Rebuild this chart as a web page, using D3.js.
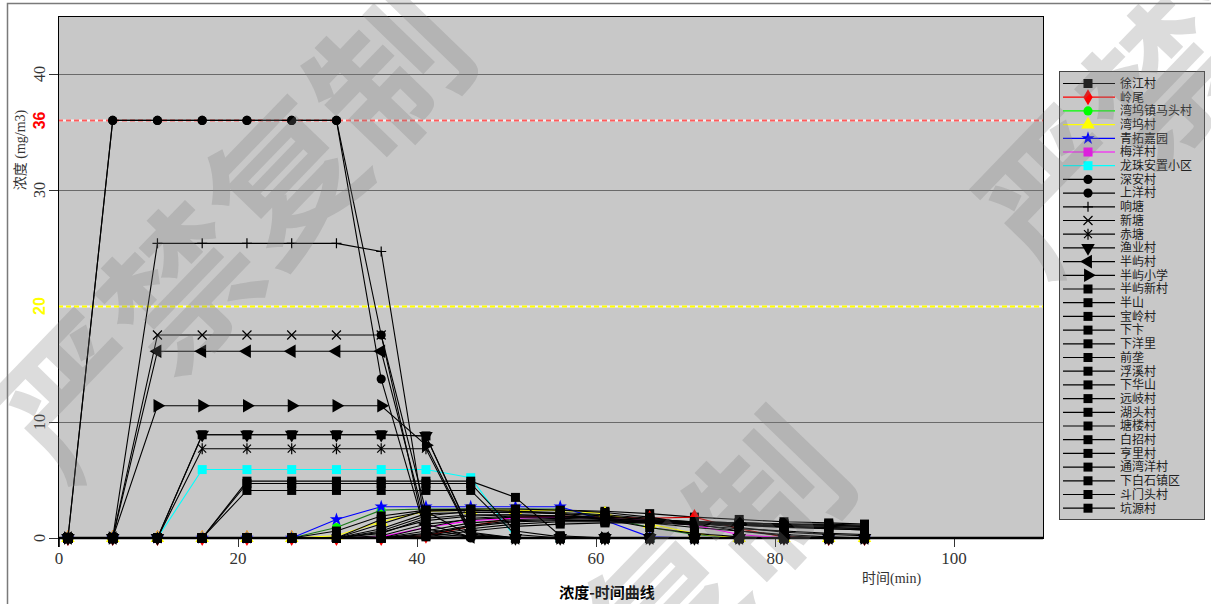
<!DOCTYPE html>
<html>
<head>
<meta charset="utf-8">
<script src="https://cdn.jsdelivr.net/npm/d3@7"></script>
<style>
  body { margin: 0; background: #fff; }
  svg { display: block; }
</style>
</head>
<body>
<svg id="chart" width="1211" height="604"></svg>
<script>
// ---- sample times (min) ----
const times = [1, 6, 11, 16, 21, 26, 31, 36, 41, 46, 51, 56, 61, 66, 71, 76, 81, 86, 90];

// ---- concentration per receptor (mg/m3), one value per sample time ----
const xujiang     = [0,0,0,0,0,0,0,0.6,1.9,2.3,2.4,2.4,2.3,2.1,1.8,1.6,1.4,1.3,1.2];
const lingwei     = [0,0,0,0,0,0,0,0,0.2,1.0,1.8,1.9,1.8,1.7,1.8,0.8,0.1,0,0];
const matou       = [0,0,0,0,0,0,0.9,2.4,2.5,2.5,2.5,2.5,1.8,0.9,0.3,0,0,0,0];
const wanwu       = [0,0,0,0,0,0,0.2,1.4,2.3,2.4,2.4,2.4,2.1,1.2,0.4,0,0,0,0];
const qingtuo     = [0,0,0,0,0,0,1.6,2.7,2.7,2.7,2.7,2.7,1.5,0.1,0,0,0,0,0];
const meiyang     = [0,0,0,0,0,0,0,0.1,0.9,1.5,1.7,1.8,1.7,1.5,1.1,0.3,0,0,0];
const longzhu     = [0,0,0,5.9,5.9,5.9,5.9,5.9,5.9,5.2,0,0,0,0,0,0,0,0,0];
const shenan      = [0,36,36,36,36,36,36,13.7,0.4,0.1,0,0,0,0,0,0,0,0,0];
const shangyang   = [0,36,36,36,36,36,36,17.5,0.2,0,0,0,0,0,0,0,0,0,0];
const xiangtang   = [0,0,25.4,25.4,25.4,25.4,25.4,24.7,0.8,0.1,0,0,0,0,0,0,0,0,0];
const xintang     = [0,0,17.5,17.5,17.5,17.5,17.5,17.5,2.3,0.2,0,0,0,0,0,0,0,0,0];
const chitang     = [0,0,0,7.7,7.7,7.7,7.7,7.7,7.7,0.2,0,0,0,0,0,0,0,0,0];
const yuye        = [0,0,0,8.9,8.9,8.9,8.9,8.9,8.8,0.4,0,0,0,0,0,0,0,0,0];
const banyu       = [0,0,16.1,16.1,16.1,16.1,16.1,16.1,1.2,0.1,0,0,0,0,0,0,0,0,0];
const banyuSchool = [0,0,11.4,11.4,11.4,11.4,11.4,11.4,8.0,0.3,0,0,0,0,0,0,0,0,0];
const banyuNew    = [0,0,0,0,4.9,4.9,4.9,4.9,4.9,4.9,3.5,0.2,0,0,0,0,0,0,0];
const banshan     = [0,0,0,8.9,8.9,8.9,8.9,8.9,8.8,0.5,0,0,0,0,0,0,0,0,0];
const baoling     = [0,0,0,0,4.7,4.7,4.7,4.7,4.7,4.7,0.6,0.1,0,0,0,0,0,0,0];
const xiabian     = [0,0,0,0,4.1,4.1,4.1,4.1,4.1,4.1,0.3,0,0,0,0,0,0,0,0];
const xiayangli   = [0,0,0,0,0,0,0,0.8,2.1,2.2,2.2,2.1,1.9,1.6,1.4,1.3,1.2,1.1,1.0];
const qianlong    = [0,0,0,0,0,0,0.6,1.9,2.4,2.5,2.5,2.4,2.2,1.8,1.2,0.6,0.2,0,0];
const fuxi        = [0,0,0,0,0,0,0,0.2,1.2,1.6,1.8,1.8,1.7,1.5,1.3,1.1,0.9,0.8,0.7];
const xiahuashan  = [0,0,0,0,0,0,0,0,0.6,1.3,1.6,1.7,1.6,1.5,1.4,1.3,1.2,1.1,1.0];
const yuanqi      = [0,0,0,0,0,0,0,0.5,1.5,1.9,2.0,1.9,1.7,1.4,1.1,0.8,0.6,0.4,0.3];
const hutou       = [0,0,0,0,0,0,0,0,0.3,1.0,1.4,1.5,1.5,1.4,1.3,1.2,1.1,1.0,0.9];
const tanglou     = [0,0,0,0,0,0,0,1.2,2.4,2.4,2.3,2.1,1.6,0.9,0.4,0.1,0,0,0];
const baizhao     = [0,0,0,0,0,0,0,0,0.9,1.7,1.9,1.9,1.8,1.6,1.4,1.2,1.0,0.8,0.7];
const hengli      = [0,0,0,0,0,0,0,0,0.2,0.8,1.2,1.4,1.4,1.3,1.2,1.1,1.0,0.9,0.8];
const tongwanyang = [0,0,0,0,0,0,0,1.6,2.3,2.4,2.3,2.2,2.0,1.7,1.3,0.9,0.5,0.3,0.2];
const xiabaishi   = [0,0,0,0,0,0,0,0,0.4,1.1,1.5,1.6,1.5,1.4,1.4,1.3,1.2,1.2,1.1];
const doumentou   = [0,0,0,0,0,0,0,0.4,1.7,2.0,2.0,1.9,1.6,1.3,0.9,0.6,0.3,0.1,0];
const kengyuan    = [0,0,0,0,0,0,0,0,0.1,0.6,1.0,1.2,1.3,1.3,1.2,1.1,1.0,0.9,0.8];

// ---- receptor names (legend order) ----
const names = ["徐江村","岭尾","湾坞镇马头村","湾坞村","青拓嘉园","梅洋村","龙珠安置小区",
  "深安村","上洋村","响塘","新塘","赤塘","渔业村","半屿村","半屿小学","半屿新村","半山",
  "宝岭村","下卞","下洋里","前垄","浮溪村","下华山","远岐村","湖头村","塘楼村","白招村",
  "亨里村","通湾洋村","下白石镇区","斗门头村","坑源村"];
const values = [xujiang, lingwei, matou, wanwu, qingtuo, meiyang, longzhu, shenan, shangyang,
  xiangtang, xintang, chitang, yuye, banyu, banyuSchool, banyuNew, banshan, baoling, xiabian,
  xiayangli, qianlong, fuxi, xiahuashan, yuanqi, hutou, tanglou, baizhao, hengli, tongwanyang,
  xiabaishi, doumentou, kengyuan];

// ---- axis ticks and reference limits ----
const yTicks = [0, 10, 30, 40];
const xTicks = [0, 20, 40, 60, 80, 100];
const limits = [{ value: 36, label: "36", color: "#ff0000", line: "#ff5c5c" },
                { value: 20, label: "20", color: "#ffff00", line: "#ffff00" }];

// ---- marker and colour per receptor ----
const colorOf = { "岭尾": "#ff0000", "湾坞镇马头村": "#00ff00", "湾坞村": "#ffff00",
  "青拓嘉园": "#0000ff", "梅洋村": "#ff00ff", "龙珠安置小区": "#00ffff" };
const lineColorOf = { "湾坞镇马头村": "#1c7a1c", "岭尾": "#d00000" };
const markerOf = { "岭尾": "diamond", "湾坞镇马头村": "circle", "湾坞村": "triUp",
  "青拓嘉园": "star", "深安村": "circle", "上洋村": "circle", "响塘": "plus", "新塘": "x",
  "赤塘": "asterisk", "渔业村": "triDown", "半屿村": "triLeft", "半屿小学": "triRight" };

const svg = d3.select("#chart");
const plot = { left: 58, right: 1043, top: 16, bottom: 538 };

const x = d3.scaleLinear().domain([0, 110]).range([59, 1043.5]);
const y = d3.scaleLinear().domain([0, 45]).range([plot.bottom, plot.top]);

const serif = "'Liberation Serif', 'DejaVu Serif', serif";
const cjkSerif = "'Liberation Serif', 'Noto Sans CJK SC', serif";
const cjkSans = "'Noto Sans CJK SC', sans-serif";

// outer frame
svg.append("rect").attr("x", 7.5).attr("y", 3.5).attr("width", 1210).attr("height", 640)
  .attr("fill", "#fff").attr("stroke", "#7a7a7a").attr("stroke-width", 1.5);

// plot background
svg.append("rect").attr("x", plot.left).attr("y", plot.top)
  .attr("width", plot.right - plot.left).attr("height", plot.bottom - plot.top)
  .attr("fill", "#c8c8c8");

// horizontal grid lines
svg.append("g").selectAll("line").data(yTicks.filter(d => d > 0)).join("line")
  .attr("x1", plot.left).attr("x2", plot.right)
  .attr("y1", d => Math.round(y(d)) + 0.5).attr("y2", d => Math.round(y(d)) + 0.5)
  .attr("stroke", "#6a6a6a").attr("stroke-width", 1);

// limit lines (dashed)
limits.forEach(l => {
  const yy = Math.round(y(l.value)) + 0.5;
  svg.append("line").attr("x1", plot.left).attr("x2", plot.right).attr("y1", yy).attr("y2", yy)
    .attr("stroke", "#f4f4f4").attr("stroke-width", 2);
  svg.append("line").attr("x1", plot.left).attr("x2", plot.right).attr("y1", yy).attr("y2", yy)
    .attr("stroke", l.line).attr("stroke-width", 2).attr("stroke-dasharray", "5,3");
});

// y axis
const yAxis = d3.axisLeft(y).tickValues(yTicks).tickSize(9).tickFormat("");
const gy = svg.append("g").attr("transform", `translate(${plot.left},0)`).call(yAxis);
gy.select(".domain").remove();
gy.selectAll(".tick line").attr("stroke", "#333");
svg.append("line").attr("x1", plot.left + 0.5).attr("x2", plot.left + 0.5)
  .attr("y1", plot.top).attr("y2", plot.bottom + 9).attr("stroke", "#000");

svg.append("g").selectAll("text").data(yTicks).join("text")
  .attr("transform", d => `translate(39,${y(d)}) rotate(-90)`)
  .attr("text-anchor", "middle").attr("dy", "0.35em")
  .attr("font-family", serif).attr("font-size", 16).attr("fill", "#333")
  .text(d => d);
svg.append("g").selectAll("text").data(limits).join("text")
  .attr("transform", d => `translate(39,${y(d.value)}) rotate(-90)`)
  .attr("text-anchor", "middle").attr("dy", "0.35em")
  .attr("font-family", "'Liberation Sans', Arial, sans-serif").attr("font-weight", "bold")
  .attr("font-size", 16).attr("fill", d => d.color)
  .text(d => d.label);

// y axis title
svg.append("text").attr("transform", "translate(20,150) rotate(-90)")
  .attr("text-anchor", "middle").attr("dy", "0.35em")
  .attr("font-family", cjkSerif).attr("font-size", 14).attr("fill", "#333")
  .text("浓度 (mg/m3)");

// x axis
const xAxis = d3.axisBottom(x).tickValues(xTicks).tickSize(9).tickFormat("");
const gx = svg.append("g").attr("transform", `translate(0,${plot.bottom})`).call(xAxis);
gx.select(".domain").remove();
gx.selectAll(".tick line").attr("stroke", "#333");
svg.append("g").selectAll("text").data(xTicks).join("text")
  .attr("x", d => x(d)).attr("y", 564)
  .attr("text-anchor", "middle")
  .attr("font-family", serif).attr("font-size", 17).attr("fill", "#333")
  .text(d => d);

// plot border and base line
svg.append("rect").attr("x", plot.left + 0.5).attr("y", plot.top + 0.5)
  .attr("width", plot.right - plot.left).attr("height", plot.bottom - plot.top)
  .attr("fill", "none").attr("stroke", "#000");
svg.append("line").attr("x1", plot.left).attr("x2", plot.right)
  .attr("y1", plot.bottom).attr("y2", plot.bottom)
  .attr("stroke", "#000").attr("stroke-width", 2.5);

// x axis title and chart title
svg.append("text").attr("x", 862).attr("y", 583)
  .attr("font-family", cjkSerif).attr("font-size", 14).attr("fill", "#333")
  .text("时间(min)");
svg.append("text").attr("x", 607).attr("y", 598).attr("text-anchor", "middle")
  .attr("font-family", cjkSans).attr("font-size", 15)
  .attr("font-weight", "bold").attr("fill", "#000")
  .text("浓度-时间曲线");

// marker shapes
function markerPath(kind) {
  switch (kind) {
    case "diamond": return d3.symbol(d3.symbolDiamond, 75)();
    case "circle": return d3.symbol(d3.symbolCircle, 66)();
    case "triUp": case "triDown": case "triLeft": case "triRight":
      return d3.symbol(d3.symbolTriangle, 80)();
    case "star": return d3.symbol(d3.symbolStar, 55)();
    case "plus": return "M-5,0H5M0,-5V5";
    case "x": return "M-4.5,-4.5L4.5,4.5M-4.5,4.5L4.5,-4.5";
    case "asterisk": return "M-4,-4L4,4M-4,4L4,-4M0,-5.5V5.5";
    default: return d3.symbol(d3.symbolSquare, 81)();
  }
}
const rotOf = { triDown: 180, triLeft: -90, triRight: 90 };
const stroked = k => k === "plus" || k === "x" || k === "asterisk";

const series = names.map((n, i) => ({
  name: n,
  color: colorOf[n] || "#000",
  lineColor: lineColorOf[n] || colorOf[n] || "#000",
  marker: markerOf[n] || "square",
  points: times.map((t, j) => ({ t, v: values[i][j] }))
}));

function drawMarker(g, s, cx, cy) {
  const r = rotOf[s.marker] || 0;
  const p = g.append("path").attr("d", markerPath(s.marker))
    .attr("transform", `translate(${cx},${cy}) rotate(${r})`);
  if (stroked(s.marker)) p.attr("fill", "none").attr("stroke", s.color).attr("stroke-width", 1.2);
  else p.attr("fill", s.color);
}

const line = d3.line().x(d => x(d.t)).y(d => y(d.v));
const gLines = svg.append("g");
series.forEach(s => {
  const g = gLines.append("g");
  g.append("path").attr("d", line(s.points)).attr("fill", "none")
    .attr("stroke", s.lineColor).attr("stroke-width", 1.1);
  s.points.forEach(p => drawMarker(g, s, x(p.t), y(p.v)));
});

// legend
const lg = svg.append("g");
lg.append("rect").attr("x", 1059.5).attr("y", 71.5).attr("width", 145).attr("height", 448)
  .attr("fill", "#c8c8c8").attr("stroke", "#444");
series.forEach((s, i) => {
  const yy = 83.5 + i * 13.7;
  lg.append("line").attr("x1", 1063).attr("x2", 1115).attr("y1", yy).attr("y2", yy)
    .attr("stroke", s.color).attr("stroke-width", 1.2);
  drawMarker(lg, s, 1088, yy);
  lg.append("text").attr("x", 1120).attr("y", yy).attr("dy", "0.36em")
    .attr("font-family", cjkSerif).attr("font-size", 12)
    .attr("fill", "#222").text(s.name);
});

// copy-protection watermark
const wm = svg.append("g").attr("pointer-events", "none");
[[235, 235], [615, 660], [1215, 30]].forEach(([cx, cy]) => {
  wm.append("text").attr("transform", `translate(${cx},${cy}) rotate(-46)`)
    .attr("text-anchor", "middle").attr("dy", "0.36em")
    .attr("font-family", cjkSans).attr("font-weight", "bold")
    .attr("font-size", 150).attr("fill", "rgb(126,126,126)").attr("fill-opacity", 0.27)
    .text("严禁复制");
});
</script>
</body>
</html>
